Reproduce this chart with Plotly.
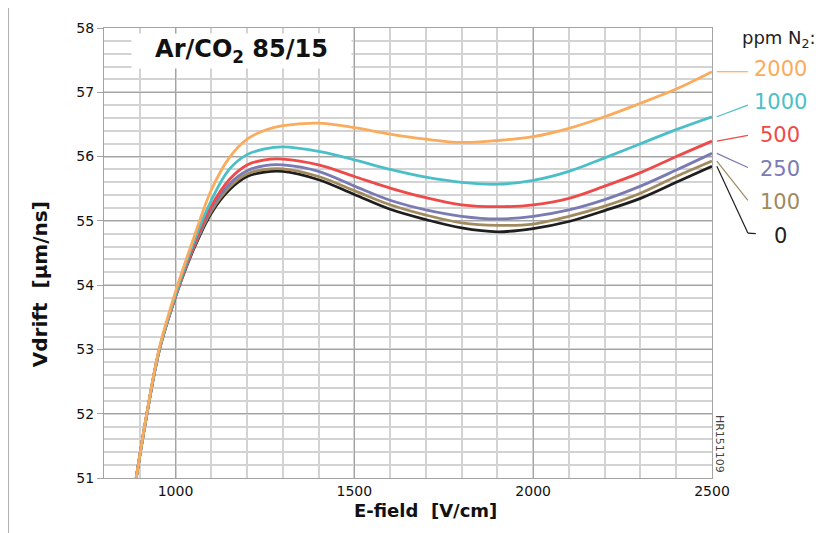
import plotly.graph_objects as go

# ---- data ----
efield = [890, 920, 955, 1000, 1050, 1100, 1150, 1200, 1250, 1300, 1400, 1500,
          1600, 1700, 1800, 1900, 2000, 2100, 2200, 2300, 2400, 2500]

v_0 = [51.0, 52.0, 53.0, 53.82, 54.55, 55.12, 55.48, 55.69, 55.76, 55.77, 55.64, 55.41,
       55.18, 55.02, 54.89, 54.83, 54.88, 54.99, 55.16, 55.35, 55.60, 55.85]
v_100 = [51.0, 52.0, 53.0, 53.82, 54.57, 55.15, 55.52, 55.73, 55.80, 55.81, 55.69, 55.47,
         55.25, 55.09, 54.97, 54.93, 54.95, 55.07, 55.23, 55.43, 55.69, 55.93]
v_250 = [51.0, 52.0, 53.0, 53.83, 54.59, 55.19, 55.57, 55.78, 55.86, 55.87, 55.77, 55.54,
         55.32, 55.17, 55.07, 55.03, 55.07, 55.17, 55.33, 55.54, 55.79, 56.05]
v_500 = [51.0, 52.0, 53.0, 53.83, 54.61, 55.23, 55.64, 55.87, 55.95, 55.96, 55.87, 55.69,
         55.51, 55.36, 55.25, 55.22, 55.25, 55.35, 55.54, 55.75, 56.00, 56.24]
v_1000 = [51.0, 52.0, 53.0, 53.85, 54.66, 55.32, 55.80, 56.03, 56.12, 56.15, 56.08, 55.95,
          55.80, 55.68, 55.60, 55.57, 55.63, 55.77, 55.98, 56.20, 56.42, 56.62]
v_2000 = [51.0, 52.02, 53.03, 53.90, 54.72, 55.48, 55.98, 56.27, 56.41, 56.48, 56.52, 56.45,
          56.35, 56.27, 56.22, 56.25, 56.31, 56.44, 56.62, 56.83, 57.05, 57.32]

series_names = ["0", "100", "250", "500", "1000", "2000"]
series_values = [v_0, v_100, v_250, v_500, v_1000, v_2000]

x_ticks = [1000, 1500, 2000, 2500]
y_ticks = [51, 52, 53, 54, 55, 56, 57, 58]

# ---- styles / layout positions ----
colors = ["#1e1e1e", "#a08a5e", "#7a7ab4", "#ee4a4a", "#4bbfc8", "#fbab5c"]
label_y = [54.76, 55.30, 55.81, 56.33, 56.85, 57.36]      # label centres (data units)
leader_end_y = [54.81, 55.32, 55.83, 56.33, 56.80, 57.32]  # leader ends (data units)

FONT = "DejaVu Sans"

fig = go.Figure()
for name, vals, col in zip(series_names, series_values, colors):
    fig.add_trace(go.Scatter(
        x=efield, y=vals, mode="lines", name=name,
        line=dict(color=col, width=2.8, shape="spline", smoothing=1.0),
        showlegend=False,
    ))

shapes = []
annotations = []
for name, vals, col, ly, ley in zip(series_names, series_values, colors, label_y, leader_end_y):
    shapes.append(dict(type="line", xref="paper", yref="y",
                       x0=1.008, y0=vals[-1], x1=1.059, y1=ley,
                       line=dict(color=col, width=1.2)))
    annotations.append(dict(xref="paper", yref="y", x=1.112, y=ly, text=name,
                            showarrow=False, xanchor="center", yanchor="middle",
                            font=dict(family=FONT, size=21, color=col)))
# hook on the "0" leader
shapes.append(dict(type="line", xref="paper", yref="y",
                   x0=1.059, y0=leader_end_y[0], x1=1.072, y1=leader_end_y[0] - 0.01,
                   line=dict(color=colors[0], width=1.2)))
# page border on the left
shapes.append(dict(type="line", xref="paper", yref="paper",
                   x0=-0.157, x1=-0.157, y0=-0.14, y1=1.08,
                   line=dict(color="#b0b0b0", width=1)))

annotations += [
    dict(xref="paper", yref="paper", x=1.046, y=0.976, text="ppm N<sub>2</sub>:",
         showarrow=False, xanchor="left", yanchor="middle",
         font=dict(family=FONT, size=18, color="#222")),
    dict(xref="paper", yref="paper", x=0.226, y=0.949, text="<b>Ar/CO<sub>2</sub> 85/15</b>",
         showarrow=False, xanchor="center", yanchor="middle", width=217, height=32,
         bgcolor="white", font=dict(family=FONT, size=24, color="#111")),
    dict(xref="paper", yref="paper", x=0.528, y=-0.073, text="<b>E-field\u00a0\u00a0[V/cm]</b>",
         showarrow=False, xanchor="center", yanchor="middle",
         font=dict(family=FONT, size=18, color="#111")),
    dict(xref="paper", yref="paper", x=-0.105, y=0.431, text="<b>Vdrift\u00a0\u00a0[µm/ns]</b>",
         showarrow=False, xanchor="center", yanchor="middle", textangle=-90,
         font=dict(family=FONT, size=20, color="#111")),
    dict(xref="paper", yref="paper", x=1.012, y=0.075, text="HR151109",
         showarrow=False, xanchor="center", yanchor="middle", textangle=90,
         font=dict(family=FONT, size=11, color="#444")),
]

# page body has an 8px margin, so the figure is offset by (8, 8)
fig.update_layout(
    width=828, height=533,
    margin=dict(l=96, r=124, t=18, b=63),
    paper_bgcolor="white", plot_bgcolor="white",
    shapes=shapes, annotations=annotations,
    font=dict(family=FONT, size=14, color="#111"),
)
fig.update_xaxes(
    range=[800, 2500], tickvals=x_ticks, ticktext=[str(v) for v in x_ticks],
    showgrid=True, gridcolor="#a3a3a3", gridwidth=1.2,
    minor=dict(dtick=100, tick0=800, showgrid=True, gridcolor="#d3d3d3", gridwidth=1.5),
    showline=True, linecolor="#a3a3a3", linewidth=1.2, mirror=True,
    ticks="", zeroline=False, tickfont=dict(family=FONT, size=14),
)
fig.update_yaxes(
    range=[51, 58], tickvals=y_ticks, ticktext=[str(v) for v in y_ticks],
    showgrid=True, gridcolor="#a3a3a3", gridwidth=1.2,
    minor=dict(dtick=0.2, tick0=51, showgrid=True, gridcolor="#d3d3d3", gridwidth=1.5),
    showline=True, linecolor="#a3a3a3", linewidth=1.2, mirror=True,
    ticks="outside", ticklen=6, tickcolor="#a3a3a3", zeroline=False,
    tickfont=dict(family=FONT, size=14),
)

fig.write_html("out.html")
